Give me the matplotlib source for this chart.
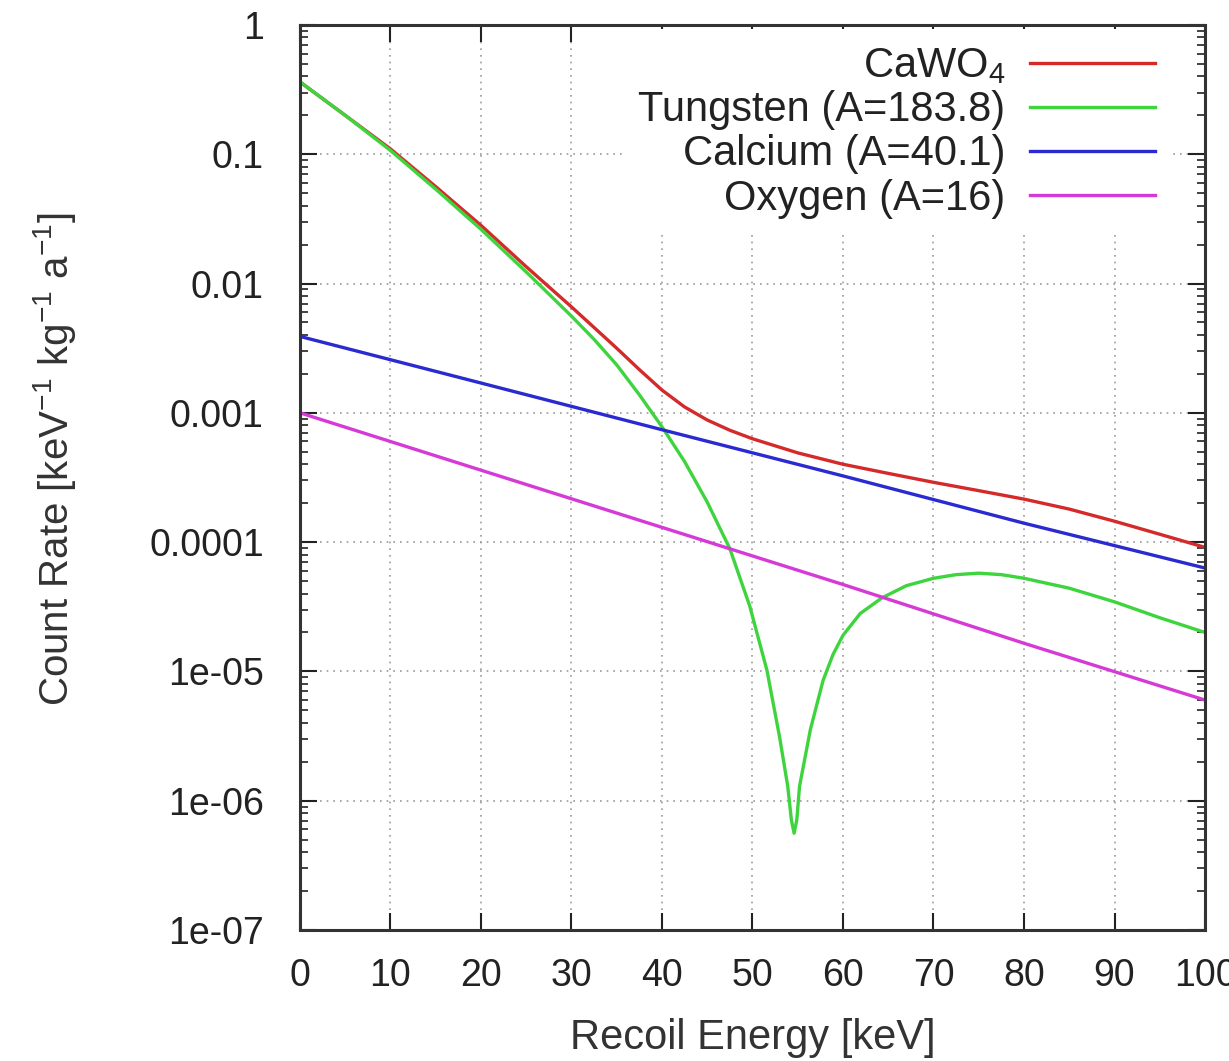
import numpy as np
import matplotlib.pyplot as plt

plt.rcParams['font.family'] = ['Liberation Sans', 'DejaVu Sans']
plt.rcParams['mathtext.fontset'] = 'custom'
plt.rcParams['mathtext.rm'] = 'Liberation Sans'
plt.rcParams['mathtext.it'] = 'Liberation Sans'

# Recoil energy [keV] and count rates
e_w = [0, 5, 10, 15, 20, 25, 30, 32.5, 35, 37.5, 40, 42.5, 45, 47.5, 49.7, 51.6,
       53.0, 53.9, 54.3, 54.6, 54.9, 55.2, 56.4, 57.8, 58.9, 60, 61.9, 64.3, 67, 70,
       72.5, 75, 77.5, 80, 85, 90, 95, 100]
tungsten = [0.363, 0.200, 0.107, 0.0537, 0.0263, 0.0123, 5.6e-3, 3.7e-3, 2.35e-3,
            1.38e-3, 7.8e-4, 4.2e-4, 2.04e-4, 8.9e-5, 3.2e-5, 1.02e-5, 3.1e-6,
            1.29e-6, 7.1e-7, 5.6e-7, 7.1e-7, 1.29e-6, 3.55e-6, 8.5e-6, 1.35e-5,
            1.9e-5, 2.8e-5, 3.7e-5, 4.6e-5, 5.25e-5, 5.6e-5, 5.75e-5, 5.6e-5,
            5.25e-5, 4.4e-5, 3.45e-5, 2.6e-5, 2.0e-5]

e_tot = [0, 5, 10, 15, 20, 25, 30, 32.5, 35, 37.5, 40, 42.5, 45, 47.5, 50, 55, 60,
         65, 70, 75, 80, 85, 90, 95, 100]
cawo4 = [0.363, 0.200, 0.110, 0.0562, 0.0282, 0.0135, 6.6e-3, 4.57e-3, 3.16e-3,
         2.16e-3, 1.50e-3, 1.11e-3, 8.8e-4, 7.33e-4, 6.3e-4, 4.9e-4, 4.0e-4, 3.4e-4,
         2.9e-4, 2.5e-4, 2.15e-4, 1.8e-4, 1.45e-4, 1.15e-4, 9.1e-5]

e_lin = [0, 20, 40, 60, 80, 100]
calcium = [3.9e-3, 1.7e-3, 7.4e-4, 3.25e-4, 1.4e-4, 6.3e-5]
oxygen = [1.0e-3, 3.6e-4, 1.3e-4, 4.7e-5, 1.65e-5, 6.0e-6]

labels = ['CaWO$_4$', 'Tungsten (A=183.8)', 'Calcium (A=40.1)', 'Oxygen (A=16)']
colors = ['#d42a2a', '#3ed43e', '#2a2ad0', '#d63ad6']

fig = plt.figure(figsize=(12.29, 10.61), dpi=100)
ax = fig.add_axes([0.244, 0.1235, 0.7365, 0.853])

lw = 2.4
ax.plot(e_tot, cawo4, color=colors[0], lw=lw, label=labels[0])
ax.plot(e_w, tungsten, color=colors[1], lw=lw, label=labels[1])
ax.plot(e_lin, calcium, color=colors[2], lw=lw, label=labels[2])
ax.plot(e_lin, oxygen, color=colors[3], lw=lw, label=labels[3])

ax.set_yscale('log')
ax.set_xlim(0, 100)
ax.set_ylim(1e-7, 1)
ax.set_xticks(range(0, 101, 10))
yt = [1e-7, 1e-6, 1e-5, 1e-4, 1e-3, 1e-2, 1e-1, 1]
ax.set_yticks(yt)
ax.set_yticklabels(['1e-07', '1e-06', '1e-05', '0.0001', '0.001', '0.01', '0.1', '1'])

ax.tick_params(which='both', direction='in', top=True, right=True, labelsize=27,
               colors='#222222')
ax.tick_params(which='major', length=12, width=1.5)
ax.tick_params(which='minor', length=6, width=1.2)
ax.tick_params(axis='y', pad=26)
ax.tick_params(axis='x', pad=20)
for s in ax.spines.values():
    s.set_linewidth(2.2)
    s.set_color('#333333')

ax.grid(True, which='major', linestyle=(0, (1, 3)), color='#999999', lw=1.2)

ax.set_xlabel('Recoil Energy [keV]', fontsize=30, color='#333333')
ax.xaxis.set_label_coords(0.5, -0.097)
ax.set_ylabel('Count Rate [keV$^{-1}$ kg$^{-1}$ a$^{-1}$]', fontsize=29,
              color='#333333')
ax.yaxis.set_label_coords(-0.245, 0.52)

leg = ax.legend(loc='upper right', bbox_to_anchor=(0.9635, 0.995), markerfirst=False,
                alignment='right', fontsize=30, handlelength=3.0, handletextpad=0.6,
                labelspacing=0.1, frameon=True, facecolor='white', edgecolor='none',
                framealpha=1, borderaxespad=0, borderpad=0.4)
for t in leg.get_texts():
    t.set_color('#222222')

fig.savefig('out.png', dpi=100)
